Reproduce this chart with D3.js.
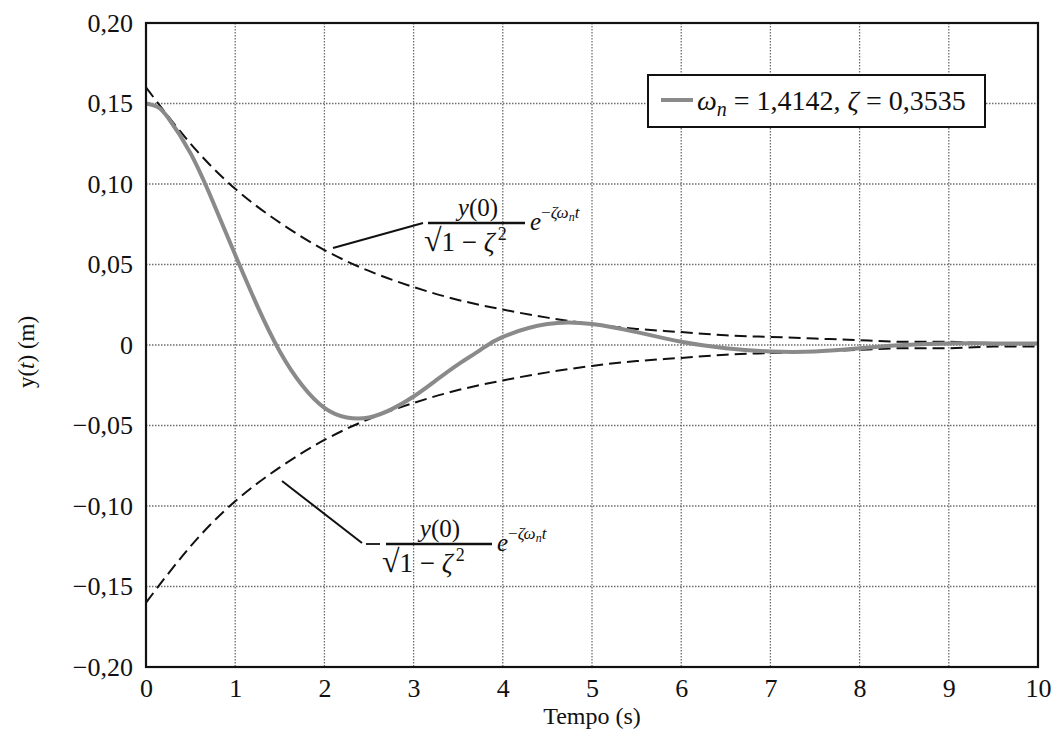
<!DOCTYPE html>
<html>
<head>
<meta charset="utf-8">
<script src="https://cdn.jsdelivr.net/npm/d3@7"></script>
<style>
  body { margin: 0; background: #fff; }
  svg text { font-family: "Liberation Serif", "Times New Roman", serif; fill: #111; }
</style>
</head>
<body>
<div id="chart"></div>
<script>
// values
const tResp = [0, 0.125, 0.25, 0.5, 0.75, 1, 1.25, 1.5, 1.75, 2, 2.25, 2.5, 2.75, 3, 3.25, 3.5, 3.75, 4, 4.5, 5, 5.5, 6, 6.5, 7, 7.5, 8, 8.5, 9, 9.5, 10];
const yResp = [0.150, 0.148, 0.141, 0.119, 0.089, 0.056, 0.024, -0.004, -0.025, -0.039, -0.045, -0.045, -0.040, -0.032, -0.022, -0.012, -0.003, 0.005, 0.013, 0.013, 0.008, 0.002, -0.002, -0.004, -0.004, -0.002, 0.000, 0.001, 0.001, 0.001];
const tEnv = [0, 0.5, 1, 1.5, 2, 2.5, 3, 3.5, 4, 4.5, 5, 5.5, 6, 6.5, 7, 7.5, 8, 8.5, 9, 9.5, 10];
const yEnvUp = [0.160, 0.125, 0.097, 0.076, 0.059, 0.046, 0.036, 0.028, 0.022, 0.017, 0.013, 0.010, 0.008, 0.006, 0.005, 0.004, 0.003, 0.002, 0.002, 0.001, 0.001];
const yEnvDown = yEnvUp.map(v => -v);
const xTicks = [0, 1, 2, 3, 4, 5, 6, 7, 8, 9, 10];
const yTicks = [-0.20, -0.15, -0.10, -0.05, 0, 0.05, 0.10, 0.15, 0.20];
const yTickLabels = ["\u22120,20", "\u22120,15", "\u22120,10", "\u22120,05", "0", "0,05", "0,10", "0,15", "0,20"];

const W = 1056, H = 734;
const svg = d3.select("#chart").append("svg")
    .attr("width", W)
    .attr("height", H)
    .attr("font-family", "Liberation Serif, serif");

const x = d3.scaleLinear().domain([0, 10]).range([146, 1038]);
const y = d3.scaleLinear().domain([-0.2, 0.2]).range([667, 23]);

// grid
svg.append("g").selectAll("line")
    .data(xTicks.slice(1, -1))
    .enter().append("line")
    .attr("x1", d => x(d)).attr("x2", d => x(d))
    .attr("y1", y(0.2)).attr("y2", y(-0.2))
    .attr("stroke", "#6e6e6e").attr("stroke-width", 1.3)
    .attr("stroke-dasharray", "1.5,1.5");
svg.append("g").selectAll("line")
    .data(yTicks.slice(1, -1))
    .enter().append("line")
    .attr("x1", x(0)).attr("x2", x(10))
    .attr("y1", d => y(d)).attr("y2", d => y(d))
    .attr("stroke", "#6e6e6e").attr("stroke-width", 1.3)
    .attr("stroke-dasharray", "1.5,1.5");

// axes (labels only, frame drawn separately)
const xAxis = d3.axisBottom(x).tickValues(xTicks).tickSize(0).tickPadding(12).tickFormat(d3.format("d"));
const yAxis = d3.axisLeft(y).tickValues(yTicks).tickSize(0).tickPadding(13)
    .tickFormat((d, i) => yTickLabels[i]);

const gx = svg.append("g").attr("transform", `translate(0,${y(-0.2)})`).call(xAxis);
const gy = svg.append("g").attr("transform", `translate(${x(0)},0)`).call(yAxis);
[gx, gy].forEach(g => {
    g.attr("font-family", "Liberation Serif, serif").attr("font-size", 26);
    g.select(".domain").remove();
    g.selectAll("text").attr("fill", "#111");
});

// curves
const line = d3.line().curve(d3.curveNatural);

svg.append("path")
    .datum(tEnv.map((t, i) => [x(t), y(yEnvUp[i])]))
    .attr("d", line)
    .attr("fill", "none").attr("stroke", "#111").attr("stroke-width", 2)
    .attr("stroke-dasharray", "12,6");
svg.append("path")
    .datum(tEnv.map((t, i) => [x(t), y(yEnvDown[i])]))
    .attr("d", line)
    .attr("fill", "none").attr("stroke", "#111").attr("stroke-width", 2)
    .attr("stroke-dasharray", "12,6");
svg.append("path")
    .datum(tResp.map((t, i) => [x(t), y(yResp[i])]))
    .attr("d", line)
    .attr("fill", "none").attr("stroke", "#8a8a8a").attr("stroke-width", 4);

// frame
svg.append("rect")
    .attr("x", x(0)).attr("y", y(0.2))
    .attr("width", x(10) - x(0)).attr("height", y(-0.2) - y(0.2))
    .attr("fill", "none").attr("stroke", "#111").attr("stroke-width", 2.2);

// axis titles
svg.append("text")
    .attr("x", 592).attr("y", 724)
    .attr("text-anchor", "middle")
    .style("font-size", "24px")
    .text("Tempo (s)");

const yl = svg.append("text")
    .attr("transform", "translate(34,352) rotate(-90)")
    .attr("text-anchor", "middle")
    .style("font-size", "23px");
yl.append("tspan").text("y(");
yl.append("tspan").style("font-style", "italic").text("t");
yl.append("tspan").text(") (m)");

// legend
const lg = svg.append("g");
lg.append("rect")
    .attr("x", 648).attr("y", 75).attr("width", 337).attr("height", 52)
    .attr("fill", "#fff").attr("stroke", "#111").attr("stroke-width", 2);
lg.append("line")
    .attr("x1", 661).attr("x2", 693).attr("y1", 100).attr("y2", 100)
    .attr("stroke", "#8a8a8a").attr("stroke-width", 4);
const lt = lg.append("text").attr("x", 697).attr("y", 110).style("font-size", "28px");
lt.append("tspan").style("font-style", "italic").text("\u03C9");
lt.append("tspan").style("font-style", "italic").style("font-size", "20px").attr("dy", 6).text("n");
lt.append("tspan").attr("dy", -6).text(" = 1,4142, ");
lt.append("tspan").style("font-style", "italic").text("\u03B6");
lt.append("tspan").text(" = 0,3535");

// envelope formulas
function formula(cx, barY, barX1, barX2, neg) {
    const g = svg.append("g");
    if (neg) {
        g.append("line")
            .attr("x1", barX1 - 20).attr("x2", barX1 - 6)
            .attr("y1", barY).attr("y2", barY)
            .attr("stroke", "#111").attr("stroke-width", 1.8);
    }
    const num = g.append("text")
        .attr("x", cx).attr("y", barY - 7)
        .attr("text-anchor", "middle").style("font-size", "25px");
    num.append("tspan").style("font-style", "italic").text("y");
    num.append("tspan").text("(0)");
    g.append("line")
        .attr("x1", barX1).attr("x2", barX2)
        .attr("y1", barY).attr("y2", barY)
        .attr("stroke", "#111").attr("stroke-width", 2.6);
    const den = g.append("text")
        .attr("x", barX1 - 4).attr("y", barY + 28)
        .style("font-size", "27px");
    den.append("tspan").style("font-size", "32px").text("\u221A");
    den.append("tspan").text("1 \u2212 ");
    den.append("tspan").style("font-style", "italic").text("\u03B6");
    den.append("tspan").style("font-size", "18px").attr("dx", 3).attr("dy", -11).text("2");
    const ex = g.append("text")
        .attr("x", barX2 + 5).attr("y", barY + 7)
        .style("font-size", "25px");
    ex.append("tspan").style("font-style", "italic").text("e");
    ex.append("tspan").style("font-size", "17px").attr("dy", -12).text("\u2212");
    ex.append("tspan").style("font-size", "17px").style("font-style", "italic").text("\u03B6\u03C9");
    ex.append("tspan").style("font-size", "12px").style("font-style", "italic").attr("dy", 3).text("n");
    ex.append("tspan").style("font-size", "17px").style("font-style", "italic").attr("dy", -3).text("t");
}
formula(478, 223, 428, 525, false);
formula(440, 544, 386, 492, true);

// leader lines
svg.append("line")
    .attr("x1", 333).attr("y1", 248).attr("x2", 423).attr("y2", 223)
    .attr("stroke", "#111").attr("stroke-width", 2);
svg.append("line")
    .attr("x1", 282).attr("y1", 481).attr("x2", 362).attr("y2", 543)
    .attr("stroke", "#111").attr("stroke-width", 2);
</script>
</body>
</html>
